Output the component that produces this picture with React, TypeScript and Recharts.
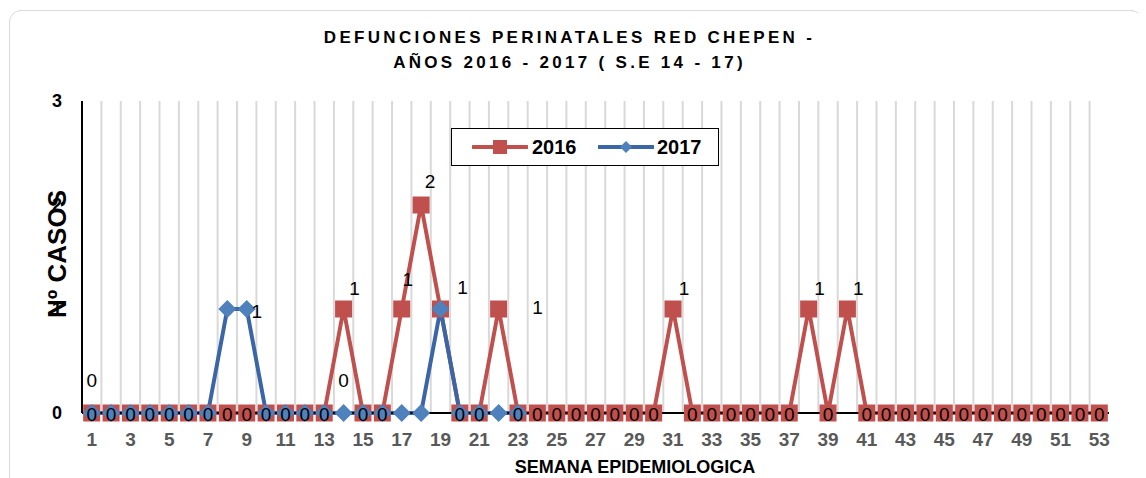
import React from 'react';
import { LineChart, Line, XAxis, YAxis, CartesianGrid, LabelList, Legend } from 'recharts';

const weeks = [1, 2, 3, 4, 5, 6, 7, 8, 9, 10, 11, 12, 13, 14, 15, 16, 17, 18, 19, 20, 21, 22, 23, 24, 25, 26, 27, 28, 29, 30, 31, 32, 33, 34, 35, 36, 37, 38, 39, 40, 41, 42, 43, 44, 45, 46, 47, 48, 49, 50, 51, 52, 53];
const cases2016 = [0, 0, 0, 0, 0, 0, 0, 0, 0, 0, 0, 0, 0, 1, 0, 0, 1, 2, 1, 0, 0, 1, 0, 0, 0, 0, 0, 0, 0, 0, 1, 0, 0, 0, 0, 0, 0, 1, 0, 1, 0, 0, 0, 0, 0, 0, 0, 0, 0, 0, 0, 0, 0];
const cases2017: (number | null)[] = [0, 0, 0, 0, 0, 0, 0, 1, 1, 0, 0, 0, 0, 0, 0, 0, 0, 0, 1, 0, 0, 0, 0];
const xTicks = [1, 3, 5, 7, 9, 11, 13, 15, 17, 19, 21, 23, 25, 27, 29, 31, 33, 35, 37, 39, 41, 43, 45, 47, 49, 51, 53];
const yTicks = [0, 1, 2, 3];
const seriesNames = ['2016', '2017'];
const titleLines = ['DEFUNCIONES PERINATALES RED CHEPEN -', 'AÑOS 2016 - 2017 ( S.E 14 - 17)'];
const xTitle = 'SEMANA EPIDEMIOLOGICA';
const yTitle = 'Nº CASOS';

const data = weeks.map((w, i) => ({
  week: w,
  v2016: cases2016[i],
  v2017: i < cases2017.length ? cases2017[i] : null,
}));

const RED = '#C0504D';
const BLUE_LINE = '#3A65A6';
const BLUE = '#4F81BD';
const FONT = '"Liberation Sans", Arial, sans-serif';

// label placement tweaks (style only)
const label2016Offsets: Record<number, [number, number]> = {
  17: [6, -30],
  18: [9, -24],
  19: [22, -22],
  22: [39, -2],
};
const label2017Offsets: Record<number, [number, number]> = {
  1: [0, -33],
  9: [10, 2],
  14: [0, -33],
};

const SquareDot = (props: any) => {
  const { cx, cy, value, key } = props;
  if (cx == null || cy == null || value == null) return <g key={key} />;
  const s = 17;
  return <rect key={key} x={cx - s / 2} y={cy - s / 2} width={s} height={s} fill={RED} />;
};

const DiamondDot = (props: any) => {
  const { cx, cy, value, key } = props;
  if (cx == null || cy == null || value == null) return <g key={key} />;
  const r = 9;
  return (
    <polygon
      key={key}
      points={`${cx},${cy - r} ${cx + r},${cy} ${cx},${cy + r} ${cx - r},${cy}`}
      fill={BLUE}
    />
  );
};

const render2016Label = (props: any) => {
  const { x, y, value, index } = props;
  if (value == null || x == null || y == null) return null;
  const w = weeks[index];
  let off: [number, number] = value === 0 ? [0, 1] : [11, -21];
  if (label2016Offsets[w] && value !== 0) off = label2016Offsets[w];
  return (
    <text
      x={x + off[0]}
      y={y + off[1]}
      textAnchor="middle"
      dominantBaseline="central"
      fontSize={19}
      fontFamily={FONT}
      fill="#000"
    >
      {value}
    </text>
  );
};

const render2017Label = (props: any) => {
  const { x, y, value, index } = props;
  if (value == null || x == null || y == null) return null;
  const w = weeks[index];
  const off = label2017Offsets[w];
  if (!off) return null;
  return (
    <text
      x={x + off[0]}
      y={y + off[1]}
      textAnchor="middle"
      dominantBaseline="central"
      fontSize={19}
      fontFamily={FONT}
      fill="#000"
    >
      {value}
    </text>
  );
};

const LegendBox = () => (
  <div
    style={{
      position: 'relative',
      width: 268,
      height: 38,
      border: '1.5px solid #000',
      boxSizing: 'border-box',
      background: '#fff',
      fontFamily: FONT,
      fontWeight: 'bold',
      fontSize: 20,
      color: '#000',
    }}
  >
    <svg style={{ position: 'absolute', left: 20, top: 10 }} width={56} height={16}>
      <line x1={1} y1={8} x2={55} y2={8} stroke={RED} strokeWidth={4} strokeLinecap="round" />
      <rect x={21} y={1} width={14} height={14} fill={RED} />
    </svg>
    <span style={{ position: 'absolute', left: 80, top: 7, lineHeight: '22px' }}>{seriesNames[0]}</span>
    <svg style={{ position: 'absolute', left: 146, top: 10 }} width={56} height={16}>
      <line x1={1} y1={8} x2={55} y2={8} stroke={BLUE_LINE} strokeWidth={4} strokeLinecap="round" />
      <polygon points="28,2 34,8 28,14 22,8" fill={BLUE} />
    </svg>
    <span style={{ position: 'absolute', left: 205, top: 7, lineHeight: '22px' }}>{seriesNames[1]}</span>
  </div>
);

const gridGen = (props: any) => {
  const { xAxis, offset } = props;
  const bounds: number[] = [];
  for (let i = 0; i < weeks.length - 1; i++) {
    const b = weeks[i] + 0.5;
    if (xAxis && typeof xAxis.scale === 'function') bounds.push(xAxis.scale(b));
    else bounds.push(offset.left + ((b - 0.5) * offset.width) / weeks.length);
  }
  return bounds;
};

export default function App() {
  return (
    <div style={{ position: 'relative', width: 1138, height: 470, fontFamily: FONT }}>
      <div
        style={{
          position: 'absolute',
          left: 1,
          top: 2,
          width: 1134,
          height: 490,
          border: '1.5px solid #d9d9d9',
          borderRadius: 12,
          boxSizing: 'border-box',
        }}
      />
      <div
        style={{
          position: 'absolute',
          left: 0,
          top: 17,
          width: 1120,
          paddingLeft: 3,
          boxSizing: 'border-box',
          textAlign: 'center',
          fontFamily: FONT,
          fontWeight: 'bold',
          fontSize: 17,
          letterSpacing: 3.3,
          lineHeight: '25px',
          color: '#000',
        }}
      >
        <div>{titleLines[0]}</div>
        <div>{titleLines[1]}</div>
      </div>
      <LineChart
        width={1138}
        height={470}
        data={data}
        margin={{ top: 93, right: 37, left: 0, bottom: 35 }}
        style={{ position: 'absolute', left: 0, top: 0 }}
      >
        <CartesianGrid
          horizontal={false}
          vertical
          stroke="#d9d9d9"
          strokeWidth={2}
          verticalCoordinatesGenerator={gridGen}
        />
        <XAxis
          dataKey="week"
          type="number"
          domain={[0.5, 53.5]}
          ticks={xTicks}
          interval={0}
          tickLine={false}
          tickSize={0}
          tickMargin={20}
          height={30}
          axisLine={{ stroke: '#000', strokeWidth: 2 }}
          tick={{ fill: '#595959', fontSize: 19, fontWeight: 'bold', fontFamily: FONT }}
        />
        <XAxis
          xAxisId="top"
          dataKey="week"
          type="number"
          domain={[0.5, 53.5]}
          orientation="top"
          height={0}
          tick={false}
          tickLine={false}
          axisLine={{ stroke: '#000', strokeWidth: 2 }}
        />
        <YAxis
          domain={[0, 3]}
          ticks={yTicks}
          interval={0}
          width={74}
          tickLine={false}
          tickSize={0}
          tickMargin={20}
          axisLine={{ stroke: '#000', strokeWidth: 2 }}
          tick={{ fill: '#000', fontSize: 18, fontWeight: 'bold', fontFamily: FONT }}
        />
        <YAxis
          yAxisId="right"
          orientation="right"
          domain={[0, 3]}
          width={0}
          tick={false}
          tickLine={false}
          axisLine={{ stroke: '#000', strokeWidth: 2 }}
        />
        <Legend
          layout="horizontal"
          verticalAlign="middle"
          align="center"
          content={() => <LegendBox />}
          wrapperStyle={{ left: 443, top: 120, width: 268, height: 38 }}
        />
        <Line
          name={seriesNames[0]}
          dataKey="v2016"
          stroke={RED}
          strokeWidth={4}
          dot={SquareDot}
          activeDot={false}
          isAnimationActive={false}
        />
        <Line
          name={seriesNames[1]}
          dataKey="v2017"
          stroke={BLUE_LINE}
          strokeWidth={4}
          dot={DiamondDot}
          activeDot={false}
          connectNulls={false}
          isAnimationActive={false}
        />
        <Line
          dataKey="v2016"
          stroke="none"
          dot={false}
          activeDot={false}
          legendType="none"
          isAnimationActive={false}
        >
          <LabelList dataKey="v2016" content={render2016Label} />
        </Line>
        <Line
          dataKey="v2017"
          stroke="none"
          dot={false}
          activeDot={false}
          legendType="none"
          isAnimationActive={false}
        >
          <LabelList dataKey="v2017" content={render2017Label} />
        </Line>
      </LineChart>
      <div
        style={{
          position: 'absolute',
          left: 49,
          top: 246,
          transform: 'translate(-50%, -50%) rotate(-90deg)',
          whiteSpace: 'nowrap',
          fontFamily: FONT,
          fontWeight: 'bold',
          fontSize: 26,
          lineHeight: '30px',
          color: '#000',
        }}
      >
        {yTitle}
      </div>
      <div
        style={{
          position: 'absolute',
          left: 627,
          top: 459,
          transform: 'translate(-50%, -50%)',
          whiteSpace: 'nowrap',
          fontFamily: FONT,
          fontWeight: 'bold',
          fontSize: 18,
          lineHeight: '20px',
          color: '#000',
        }}
      >
        {xTitle}
      </div>
    </div>
  );
}
